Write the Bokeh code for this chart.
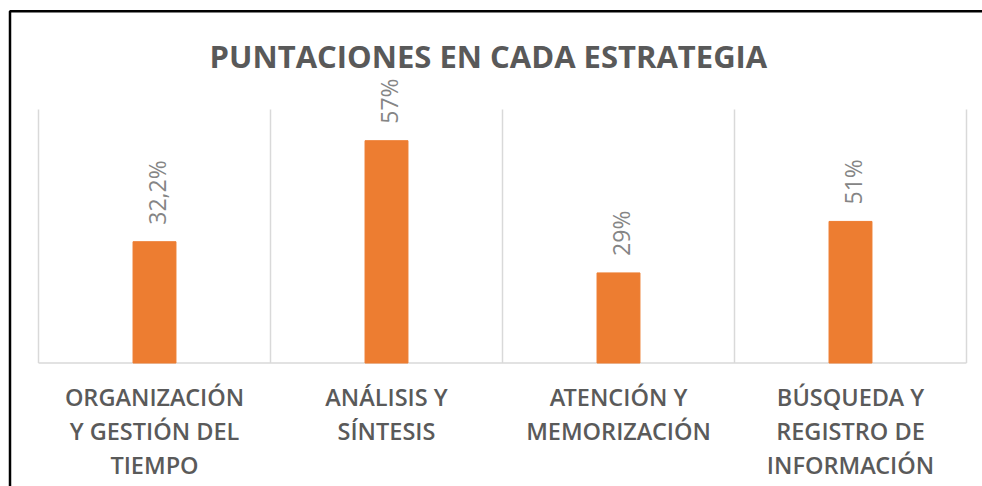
import numpy as np
from bokeh.plotting import figure
from bokeh.models import Range1d, Label, ColumnDataSource
from bokeh.core.properties import value
from bokeh.embed import file_html
from bokeh.resources import INLINE

# ---- data ----
categories = [
    "ORGANIZACIÓN\nY GESTIÓN DEL\nTIEMPO",
    "ANÁLISIS Y\nSÍNTESIS",
    "ATENCIÓN Y\nMEMORIZACIÓN",
    "BÚSQUEDA Y\nREGISTRO DE\nINFORMACIÓN",
]
bar_heights = [31.1, 57.0, 23.1, 36.3]          # bar heights as drawn
bar_labels = ["32,2%", "57%", "29%", "51%"]     # data labels as printed
title_text = "PUNTACIONES  EN  CADA  ESTRATEGIA"
axis_max = 65

# ---- layout constants (pixels) ----
W, H = 982, 486
plot_left, plot_right = 38.0, 966.0
base_px, top_px = 362.5, 109.0
ppx = (plot_right - plot_left) / len(categories)   # pixels per category
ppy = (base_px - top_px) / axis_max                # pixels per unit

x_range = Range1d(-plot_left / ppx, len(categories) + (W - plot_right) / ppx)
y_range = Range1d(-(H - base_px) / ppy, base_px / ppy)

p = figure(width=W, height=H, x_range=x_range, y_range=y_range,
           x_axis_location=None, y_axis_location=None,
           toolbar_location=None, output_backend="svg", min_border=0)
p.grid.visible = False
p.outline_line_color = None
p.background_fill_color = "white"
p.border_fill_color = "white"

n = len(categories)
xs = np.arange(n) + 0.5
bounds = np.arange(n + 1)

# vertical separators and baseline
p.segment(x0=bounds, y0=[0] * (n + 1), x1=bounds, y1=[axis_max] * (n + 1),
          line_color="#d9d9d9", line_width=1.5)
p.segment(x0=[0], y0=[0], x1=[n], y1=[0], line_color="#d9d9d9", line_width=1.5)

# bars
src = ColumnDataSource(dict(x=xs, top=bar_heights, lab=bar_labels, cat=categories))
p.vbar(x="x", top="top", width=0.185, source=src, fill_color="#ED7D31",
       line_color="#ED7D31")

# data labels (rotated)
p.text(x="x", y="top", text="lab", source=src, angle=np.pi / 2,
       x_offset=2, y_offset=-17, text_align="left", text_baseline="middle",
       text_font=value("Open Sans"), text_font_size="23px", text_color="#858585")

# category labels
p.text(x="x", y=0, text="cat", source=src, y_offset=18,
       text_align="center", text_baseline="top", line_height=1.055,
       text_font=value("Open Sans SemiBold"), text_font_style="normal",
       text_font_size="23.5px", text_color="#5a5a5a")

# frame border (top-left only visible)
bl, bt = 9.5, 10.7
p.quad(left=[(bl - plot_left) / ppx], right=[n + 1], top=[(base_px - bt) / ppy],
       bottom=[-(H + 50 - base_px) / ppy], fill_alpha=0, line_color="black",
       line_width=2.5)

# title
p.add_layout(Label(x=500, y=H - 55, x_units="screen", y_units="screen",
                   text=title_text, text_align="center", text_baseline="alphabetic",
                   text_font="Open Sans", text_font_style="bold",
                   text_font_size="31px", text_color="#595959"))

open("out.html", "w").write(file_html(p, INLINE))
